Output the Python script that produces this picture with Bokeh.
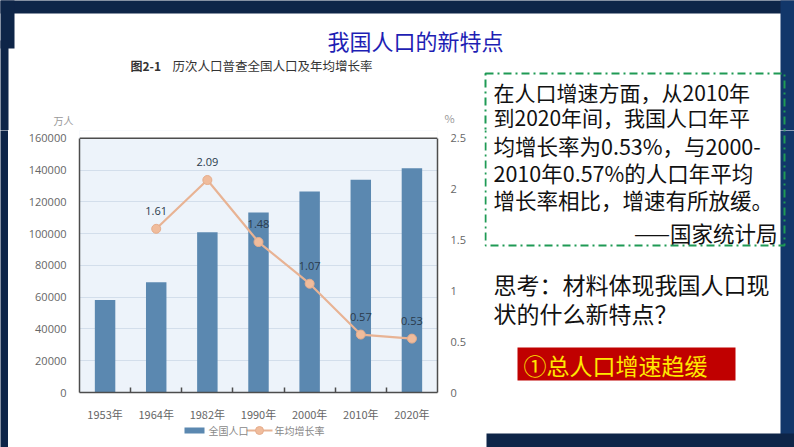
from bokeh.plotting import figure
from bokeh.layouts import column, row
from bokeh.models import (Range1d, LinearAxis, FixedTicker, NumeralTickFormatter, BoxAnnotation,
                          Label, ColumnDataSource, Span)
from bokeh.core.properties import value
from bokeh.embed import file_html
from bokeh.resources import INLINE

# ---------------- data ----------------
years = ["1953年", "1964年", "1982年", "1990年", "2000年", "2010年", "2020年"]
population = [58260, 69458, 100818, 113368, 126583, 133972, 141178]   # 万人
rate_years = ["1964年", "1982年", "1990年", "2000年", "2010年", "2020年"]
rates = [1.61, 2.09, 1.48, 1.07, 0.57, 0.53]                          # %
rate_labels = ["1.61", "2.09", "1.48", "1.07", "0.57", "0.53"]
left_ticks = [0, 20000, 40000, 60000, 80000, 100000, 120000, 140000, 160000]
right_ticks = [0, 0.5, 1, 1.5, 2, 2.5]
series_names = ["全国人口", "年均增长率"]

title_text = "我国人口的新特点"
fig_no = "图2-1"
fig_caption = "历次人口普查全国人口及年均增长率"
quote_lines = ["在人口增速方面，从2010年",
               "到2020年间，我国人口年平",
               "均增长率为0.53%，与2000-",
               "2010年0.57%的人口年平均",
               "增长率相比，增速有所放缓。"]
quote_source = "——国家统计局"
think_lines = ["思考：材料体现我国人口现", "状的什么新特点？"]
answer_text = "①总人口增速趋缓"

CJK = "Noto Sans CJK SC"
DARK = "#0e2548"
DARK2 = "#12376a"
BAR = "#5b88b0"
LINE = "#e8b394"
DOT_FILL = "#f0bc9c"
DOT_LINE = "#e6ad8c"
GREEN = "#1f9a55"


# ---------- helpers ----------
def deco_fig(x0, x1, y0, y1, bg="white", bl=0, br=0):
    f = figure(width=x1 - x0, height=y1 - y0, x_range=Range1d(x0 + bl, x1 - br), y_range=Range1d(y1, y0),
               x_axis_location=None, y_axis_location=None, min_border=0,
               min_border_left=bl, min_border_right=br,
               output_backend="svg", toolbar_location=None, outline_line_color=None,
               background_fill_color=bg, border_fill_color=bg)
    f.grid.visible = False
    return f


def box(f, l, r, t, b, color):
    f.add_layout(BoxAnnotation(left=l, right=r, top=t, bottom=b, fill_color=color,
                               fill_alpha=1, line_color=None))


def dashbox(f, l, r, t, b):
    f.add_layout(BoxAnnotation(left=l, right=r, top=t, bottom=b, fill_alpha=0, line_color=GREEN,
                               line_alpha=1, line_width=2, line_dash="8 4 2 4"))


def lab(f, x, y, text, size, color, align="left", font=CJK, style="normal"):
    f.add_layout(Label(x=x, y=y, text=text, text_align=align, text_baseline="middle",
                       text_font=font, text_font_size=size, text_color=color, text_font_style=style))


SPLIT = 130      # header / body boundary (px)
SIDE_X = 484     # chart column / text panel boundary (px)

# ---------- header: slide title, chart caption, axis units, top of quote box ----------
head = deco_fig(0, 794, 0, SPLIT)
box(head, -5, 800, -5, 13, DARK)
box(head, -5, 14, -5, 48, DARK)
box(head, -5, 8, 40, 200, DARK)
box(head, 780, 800, -5, 200, DARK2)
lab(head, 415, 39, title_text, "22px", "#1e1eb4", align="center")
lab(head, 130, 65, fig_no, "12px", "#333333", style="bold")
lab(head, 172, 65, fig_caption, "12.5px", "#333333")
lab(head, 63, 120, "万人", "10px", "#999999", align="center")
lab(head, 449, 117, "%", "11px", "#999999", align="center")
dashbox(head, 485, 784, 73, SPLIT + 20)
for i, t in enumerate(quote_lines[:2]):
    lab(head, 493, 91 + i * 25, t, "21px", "#111111")

# ---------- thin dark strip at the far left ----------
strip = deco_fig(0, 8, SPLIT, 447, bg=DARK)

# ---------- chart ----------
FRAME_TOP, FRAME_BOTTOM = 138, 397          # px of 160000 and of 0
slot = {y: i + 0.5 for i, y in enumerate(years)}
bar_x = [slot[y] for y in years]
rate_x = [slot[y] for y in rate_years]
boundaries = [i + 1 for i in range(len(years) - 1)]
stretch = (FRAME_BOTTOM - SPLIT) / (FRAME_BOTTOM - FRAME_TOP)

p = figure(width=SIDE_X - 8, height=424 - SPLIT, x_range=Range1d(0, len(years)),
           y_range=Range1d(0, left_ticks[-1] * stretch),
           output_backend="svg", toolbar_location=None,
           min_border_left=71, min_border_right=SIDE_X - 437, min_border_top=0, min_border_bottom=27,
           border_fill_color="white", background_fill_color="#edf3fa", outline_line_color=None)
p.extra_y_ranges = {"pct": Range1d(0, right_ticks[-1] * stretch)}

# white area above the plot box and the dark top edge of the box
p.add_layout(BoxAnnotation(bottom=left_ticks[-1], fill_color="white", fill_alpha=1, line_color=None))
p.add_layout(Span(location=left_ticks[-1], dimension="width", line_color="#4d4d4d", line_width=1.5))

p.yaxis.ticker = FixedTicker(ticks=left_ticks)
p.yaxis.formatter = NumeralTickFormatter(format="0")
p.yaxis.bounds = (left_ticks[0], left_ticks[-1])
p.ygrid.ticker = FixedTicker(ticks=left_ticks)
p.ygrid.grid_line_color = "#d3deeb"
p.xgrid.grid_line_color = None

ax_r = LinearAxis(y_range_name="pct", ticker=FixedTicker(ticks=right_ticks),
                  bounds=(right_ticks[0], right_ticks[-1]),
                  major_label_overrides={0: "0", 1: "1", 2: "2"})
p.add_layout(ax_r, "right")

for ax in [p.yaxis[0], ax_r]:
    ax.major_tick_line_color = None
    ax.minor_tick_line_color = None
    ax.major_label_standoff = 7
    ax.axis_line_color = "#4d4d4d"
    ax.axis_line_width = 1.5
    ax.major_label_text_color = "#666666"
    ax.major_label_text_font = "Open Sans"
    ax.major_label_text_font_size = "11px"

xa = p.xaxis[0]
xa.ticker = FixedTicker(ticks=bar_x, minor_ticks=boundaries)
xa.major_label_overrides = {slot[y]: y for y in years}
xa.major_tick_line_color = None
xa.minor_tick_line_color = "#4d4d4d"
xa.minor_tick_line_width = 1.5
xa.minor_tick_in = 5
xa.minor_tick_out = 0
xa.axis_line_color = "#4d4d4d"
xa.axis_line_width = 1.5
xa.major_label_standoff = 7
xa.major_label_text_color = "#666666"
xa.major_label_text_font = CJK
xa.major_label_text_font_size = "11px"

psrc = ColumnDataSource(dict(x=bar_x, year=years, pop=population))
rsrc = ColumnDataSource(dict(x=rate_x, year=rate_years, rate=rates, label=rate_labels))

p.vbar(x="x", top="pop", width=0.4, source=psrc, fill_color=BAR, line_color=None)
p.line(x="x", y="rate", source=rsrc, y_range_name="pct", line_color=LINE, line_width=2.2)
p.scatter(x="x", y="rate", source=rsrc, y_range_name="pct", size=9,
          fill_color=DOT_FILL, line_color=DOT_LINE)
p.text(x="x", y="rate", text="label", source=rsrc, y_range_name="pct",
       text_align="center", text_baseline="middle", y_offset=-18,
       text_font=value("Open Sans"), text_font_size="11px", text_color="#2a3a4c")

# ---------- legend row (key drawn with the series' own styles) ----------
leg = deco_fig(8, SIDE_X, 424, 447, bl=71, br=SIDE_X - 437)
leg.quad(left=[184], right=[204], top=[427], bottom=[433], fill_color=BAR, line_color=None)
leg.line(x=[246, 272], y=[430, 430], line_color=LINE, line_width=2.2)
leg.scatter(x=[259], y=[430], size=8, fill_color=DOT_FILL, line_color=DOT_LINE)
lab(leg, 208, 430, series_names[0], "10px", "#888888")
lab(leg, 274, 430, series_names[1], "10px", "#888888")

# ---------- right-hand text panel ----------
side = deco_fig(SIDE_X, 794, SPLIT, 447)
box(side, 780, 800, SPLIT - 20, 460, DARK2)
box(side, 486, 800, 433, 460, DARK)
dashbox(side, 485, 784, SPLIT - 20, 245)
for i, t in enumerate(quote_lines[2:]):
    lab(side, 493, 145 + i * 27, t, "21.5px", "#111111")
lab(side, 777, 232, quote_source, "21.5px", "#111111", align="right")
for i, t in enumerate(think_lines):
    lab(side, 493, 283 + i * 29, t, "23px", "#111111")
box(side, 517, 735, 347, 380, "#c00000")
lab(side, 523, 364, answer_text, "23px", "#ffe800")

page = column(head, row(strip, column(p, leg), side))
open("out.html", "w").write(file_html(page, INLINE))
